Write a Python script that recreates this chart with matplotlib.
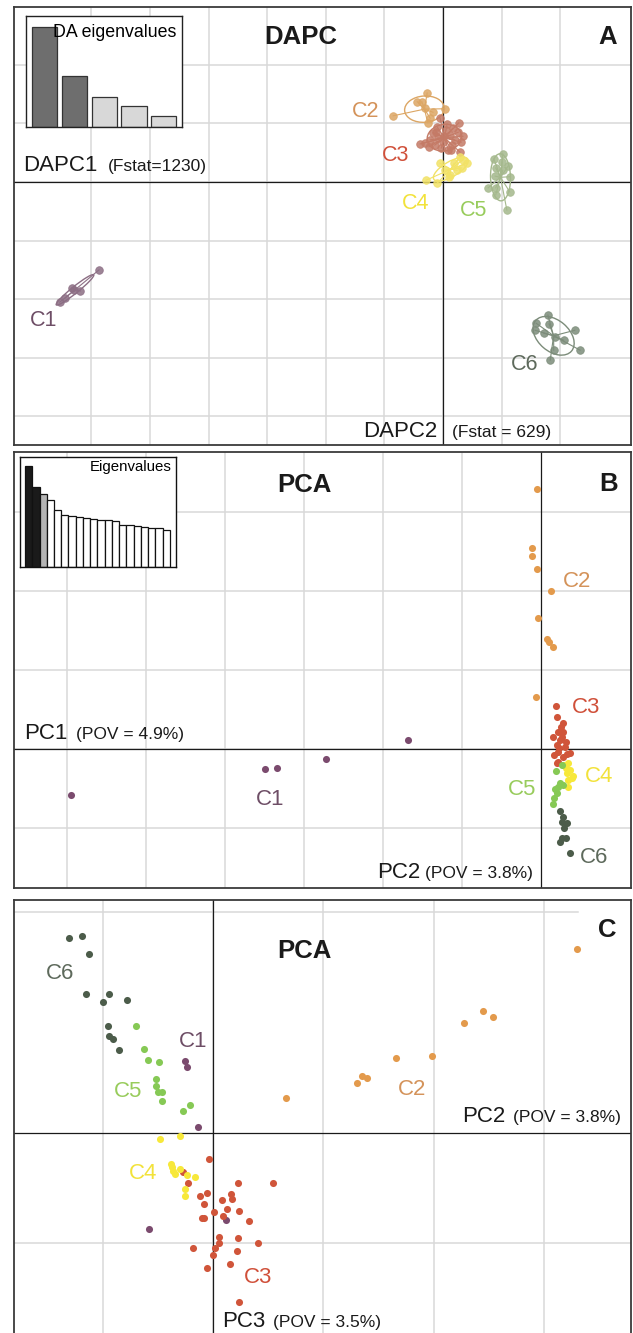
import numpy as np
import matplotlib.pyplot as plt
from matplotlib.patches import Ellipse

plt.rcParams['font.family'] = ['Liberation Sans', 'DejaVu Sans']

W, H = 633, 1333
groups = ['C1', 'C2', 'C3', 'C4', 'C5', 'C6']

# ---- panel A : DAPC scores (grid unit = 1)
dapc1 = {
    'C1': [-5.87, -6.33, -6.19, -6.45, -6.54, -6.30],
    'C2': [-0.27, -0.44, -0.36, -0.85, 0.03, -0.22, -0.26, -0.31, -0.17],
    'C3': [-0.05, 0.27, -0.39, -0.31, 0.31, 0.29, 0.09, -0.10, -0.17, 0.17, 0.00, 0.12, -0.09,
           0.20, 0.05, -0.22, -0.03, 0.15, -0.12, 0.26, 0.07, -0.24, 0.34, 0.02, -0.14, 0.14],
    'C4': [-0.29, -0.10, -0.05, 0.12, 0.10, 0.19, 0.29, 0.32, 0.41, 0.34, 0.03, 0.24],
    'C5': [1.02, 0.87, 1.01, 1.11, 0.90, 1.02, 0.89, 1.14, 0.77, 0.90, 1.14, 0.90, 1.09],
    'C6': [1.79, 1.59, 1.81, 1.57, 1.72, 1.91, 2.06, 2.25, 1.89, 2.34, 1.83],
}
dapc2 = {
    'C1': [-1.50, -1.81, -1.86, -1.98, -2.05, -1.84],
    'C2': [1.52, 1.37, 1.37, 1.13, 1.25, 1.09, 1.01, 1.26, 1.19],
    'C3': [1.09, 1.01, 0.65, 0.67, 0.68, 0.51, 0.55, 0.94, 0.84, 0.92, 0.68, 0.80, 0.75,
           0.72, 0.89, 0.72, 0.58, 0.63, 0.85, 0.85, 0.99, 0.60, 0.78, 0.78, 0.63, 0.55],
    'C4': [0.03, -0.02, 0.32, 0.12, 0.09, 0.32, 0.43, 0.24, 0.32, 0.38, 0.20, 0.20],
    'C5': [0.48, 0.39, 0.34, 0.27, 0.24, 0.20, 0.10, 0.09, -0.10, -0.10, -0.17, -0.22, -0.48],
    'C6': [-2.27, -2.41, -2.42, -2.53, -2.58, -2.65, -2.70, -2.53, -2.87, -2.87, -3.04],
}
da_eig = [1230, 629, 370, 258, 135]
da_fstat = [1230, 629]

# ---- panel B : PC1 (horizontal) x PC2 (vertical)
pcb_x = {
    'C1': [-5.95, -3.49, -3.34, -2.72, -1.68],
    'C2': [-0.05, -0.11, -0.11, -0.05, 0.13, -0.04, 0.08, 0.10, 0.15, -0.06],
    'C3': [0.19, 0.20, 0.28, 0.22, 0.28, 0.15, 0.24, 0.20, 0.30, 0.22, 0.37, 0.16, 0.28, 0.22,
           0.33, 0.23, 0.27, 0.20, 0.25, 0.32],
    'C4': [0.34, 0.32, 0.37, 0.33, 0.39, 0.34, 0.41, 0.34, 0.29],
    'C5': [0.27, 0.19, 0.28, 0.22, 0.18, 0.20, 0.16, 0.15, 0.24],
    'C6': [0.24, 0.28, 0.27, 0.33, 0.29, 0.27, 0.32, 0.24, 0.37],
}
pcb_y = {
    'C1': [-0.58, -0.25, -0.24, -0.13, 0.11],
    'C2': [3.29, 2.54, 2.44, 2.28, 2.00, 1.66, 1.39, 1.35, 1.29, 0.66],
    'C3': [0.54, 0.41, 0.33, 0.22, 0.22, 0.15, 0.11, 0.05, 0.03, -0.04, -0.05, -0.08, -0.10, -0.16,
           -0.06, 0.01, 0.15, -0.18, 0.28, 0.09],
    'C4': [-0.18, -0.24, -0.27, -0.30, -0.37, -0.39, -0.34, -0.48, -0.20],
    'C5': [-0.20, -0.28, -0.46, -0.48, -0.51, -0.56, -0.62, -0.70, -0.43],
    'C6': [-0.78, -0.86, -0.92, -0.94, -1.00, -1.13, -1.13, -1.18, -1.32],
}

# ---- panel C : PC2 (horizontal) x PC3 (vertical)
pcc_x = {
    'C1': [-0.25, -0.24, -0.14, -0.58, 0.12],
    'C2': [3.30, 2.45, 2.54, 2.28, 1.99, 1.66, 1.35, 1.40, 1.31, 0.66],
    'C3': [-0.04, -0.27, -0.23, 0.23, 0.54, -0.12, -0.05, -0.08, 0.08, 0.16, 0.17, 0.01, 0.13, 0.24,
           0.09, -0.10, -0.08, 0.33, 0.05, 0.23, 0.41, 0.05, 0.02, -0.18, 0.22, 0.00, 0.15, -0.05, 0.24],
    'C4': [-0.48, -0.30, -0.38, -0.36, -0.34, -0.30, -0.24, -0.16, -0.25, -0.25, -0.37],
    'C5': [-0.70, -0.63, -0.59, -0.49, -0.52, -0.52, -0.50, -0.46, -0.46, -0.21, -0.27],
    'C6': [-1.31, -1.19, -1.12, -1.15, -1.00, -0.94, -0.78, -0.95, -0.94, -0.91, -0.85],
}
pcc_y = {
    'C1': [0.65, 0.60, 0.05, -0.87, -0.79],
    'C2': [1.67, 1.11, 1.05, 1.00, 0.70, 0.68, 0.52, 0.50, 0.45, 0.32],
    'C3': [-0.24, -0.35, -0.45, -0.45, -0.45, -0.57, -0.54, -0.64, -0.61, -0.55, -0.60, -0.72, -0.69,
           -0.71, -0.75, -0.77, -0.77, -0.80, -0.94, -0.95, -1.00, -1.00, -1.04, -1.04, -1.07, -1.11,
           -1.19, -1.22, -1.53],
    'C4': [-0.05, -0.03, -0.28, -0.34, -0.37, -0.33, -0.38, -0.40, -0.51, -0.57, -0.31],
    'C5': [0.97, 0.76, 0.66, 0.64, 0.49, 0.43, 0.37, 0.37, 0.29, 0.25, 0.20],
    'C6': [1.77, 1.79, 1.62, 1.26, 1.19, 1.26, 1.21, 0.97, 0.88, 0.85, 0.75],
}
pca_eig = [4.90, 3.88, 3.55, 3.25, 2.78, 2.55, 2.47, 2.45, 2.37, 2.35,
           2.30, 2.29, 2.24, 2.06, 2.04, 1.98, 1.95, 1.90, 1.88, 1.82]
pov = [4.9, 3.8, 3.5]

# colours
col_a = {'C1': '#8c6e84', 'C2': '#dca664', 'C3': '#c47a66', 'C4': '#f2e266', 'C5': '#a4b88c', 'C6': '#7c8c7a'}
col_pt = {'C1': '#7b4b6e', 'C2': '#e39a4c', 'C3': '#d0553a', 'C4': '#f7e83a', 'C5': '#86c955', 'C6': '#4c5c4a'}
col_lab = {'C1': '#6e4e66', 'C2': '#d4935a', 'C3': '#d0503a', 'C4': '#f2e23a', 'C5': '#98cc5c', 'C6': '#5e6a5c'}

fig = plt.figure(figsize=(W / 100, H / 100), dpi=100)


def ftext(x, y, s, **kw):
    kw.setdefault('va', 'baseline')
    fig.text(x / W, 1 - y / H, s, **kw)


def panel(box, origin, unit, gx, gy):
    l, t, r, b = box
    ax = fig.add_axes([l / W, 1 - b / H, (r - l) / W, (b - t) / H])
    ox, oy = origin
    ax.set_xlim((l - ox) / unit, (r - ox) / unit)
    ax.set_ylim((oy - b) / unit, (oy - t) / unit)
    ax.set_xticks([])
    ax.set_yticks([])
    for s in ax.spines.values():
        s.set_color('#3a3a3a')
        s.set_linewidth(1.3)
    for v in gx:
        ax.axvline(v, color='#d9d9d9', lw=1.1, zorder=0)
    for v in gy:
        ax.axhline(v, color='#d9d9d9', lw=1.1, zorder=0)
    ax.axvline(0, color='#1a1a1a', lw=0.9, zorder=1)
    ax.axhline(0, color='#1a1a1a', lw=0.9, zorder=1)
    return ax


def star_ellipse(ax, x, y, col, k=1.5):
    x = np.asarray(x)
    y = np.asarray(y)
    cx, cy = x.mean(), y.mean()
    for xi, yi in zip(x, y):
        ax.plot([cx, xi], [cy, yi], color=col, lw=0.8, zorder=2)
    cov = np.cov(x, y, bias=True)
    vals, vecs = np.linalg.eigh(cov)
    ang = np.degrees(np.arctan2(vecs[1, 1], vecs[0, 1]))
    ax.add_patch(Ellipse((cx, cy), 2 * k * np.sqrt(vals[1]), 2 * k * np.sqrt(vals[0]),
                         angle=ang, fill=False, ec=col, lw=1.0, zorder=2))


# ---------------- A
axA = panel((14, 7, 631, 445), (443, 182), 58.6, range(-6, 3), range(-4, 3))
for g in groups:
    star_ellipse(axA, dapc1[g], dapc2[g], col_a[g])
    axA.scatter(dapc1[g], dapc2[g], s=30, color=col_a[g], alpha=0.85,
                edgecolors=col_a[g], linewidths=0.6, zorder=3)

insA = fig.add_axes([26 / W, 1 - 127 / H, 156 / W, 111 / H])
insA.bar(range(5), da_eig, width=0.84,
         color=['#6e6e6e', '#6e6e6e', '#d8d8d8', '#d8d8d8', '#d8d8d8'],
         edgecolor='#333333', lw=0.9)
insA.set_xlim(-0.62, 4.61)
insA.set_ylim(0, 1365)
insA.set_xticks([])
insA.set_yticks([])
for s in insA.spines.values():
    s.set_color('#222222')
    s.set_linewidth(1.0)
insA.text(0.965, 0.93, 'DA eigenvalues', transform=insA.transAxes, ha='right', va='top', fontsize=12.8)

ftext(301, 44, 'DAPC', fontsize=18.5, fontweight='bold', ha='center', color='#1a1a1a')
ftext(608, 44, 'A', fontsize=18.5, fontweight='bold', ha='center', color='#1a1a1a')
ftext(23, 171, 'DAPC1', fontsize=16, ha='left', color='#1a1a1a')
ftext(108, 171, f'(Fstat={da_fstat[0]})', fontsize=12.5, ha='left', color='#1a1a1a')
ftext(437, 437, 'DAPC2', fontsize=16, ha='right', color='#1a1a1a')
ftext(452, 437, f'(Fstat = {da_fstat[1]})', fontsize=12.5, ha='left', color='#1a1a1a')
for g, (x, y) in zip(groups, [(44, 326), (366, 117), (396, 161), (416, 209), (474, 216), (525, 370)]):
    ftext(x, y, g, fontsize=15.5, ha='center', color=col_lab[g])

# ---------------- B
axB = panel((14, 452, 631, 888), (541, 749), 79, range(-6, 0), range(-1, 4))
for g in groups:
    axB.scatter(pcb_x[g], pcb_y[g], s=26, color=col_pt[g], linewidths=0, zorder=3)

insB = fig.add_axes([20 / W, 1 - 567 / H, 156 / W, 110 / H])
insB.bar(range(20), pca_eig, width=1.0,
         color=['#1a1a1a', '#1a1a1a', '#b4b4b4'] + ['white'] * 17,
         edgecolor='#111111', lw=0.9)
insB.set_xlim(-1.19, 20.33)
insB.set_ylim(0, 5.35)
insB.set_xticks([])
insB.set_yticks([])
for s in insB.spines.values():
    s.set_color('#111111')
    s.set_linewidth(1.0)
insB.text(0.975, 0.975, 'Eigenvalues', transform=insB.transAxes, ha='right', va='top', fontsize=10.8)

ftext(304, 492, 'PCA', fontsize=18.5, fontweight='bold', ha='center', color='#1a1a1a')
ftext(609, 491, 'B', fontsize=18.5, fontweight='bold', ha='center', color='#1a1a1a')
ftext(24, 739, 'PC1', fontsize=16, ha='left', color='#1a1a1a')
ftext(76, 739, f'(POV = {pov[0]}%)', fontsize=12.5, ha='left', color='#1a1a1a')
ftext(420, 878, 'PC2', fontsize=16, ha='right', color='#1a1a1a')
ftext(425, 878, f'(POV = {pov[1]}%)', fontsize=12.5, ha='left', color='#1a1a1a')
for g, (x, y) in zip(groups, [(270, 805), (577, 587), (586, 713), (599, 782), (522, 795), (594, 863)]):
    ftext(x, y, g, fontsize=16, ha='center', color=col_lab[g])

# ---------------- C
axC = panel((14, 900, 631, 1345), (213, 1133), 110.3, range(-1, 4), [-1])
axC.spines['bottom'].set_visible(False)
axC.plot([axC.get_xlim()[0], 3.31], [2, 2], color='#d9d9d9', lw=1.1, zorder=0)
for g in groups:
    axC.scatter(pcc_x[g], pcc_y[g], s=26, color=col_pt[g], linewidths=0, zorder=3)

ftext(304, 958, 'PCA', fontsize=18.5, fontweight='bold', ha='center', color='#1a1a1a')
ftext(607, 937, 'C', fontsize=18.5, fontweight='bold', ha='center', color='#1a1a1a')
ftext(462, 1122, 'PC2', fontsize=16, ha='left', color='#1a1a1a')
ftext(513, 1122, f'(POV = {pov[1]}%)', fontsize=12.5, ha='left', color='#1a1a1a')
ftext(222, 1327, 'PC3', fontsize=16, ha='left', color='#1a1a1a')
ftext(273, 1327, f'(POV = {pov[2]}%)', fontsize=12.5, ha='left', color='#1a1a1a')
for g, (x, y) in zip(groups, [(193, 1047), (412, 1095), (258, 1283), (143, 1179), (128, 1097), (60, 979)]):
    ftext(x, y, g, fontsize=16, ha='center', color=col_lab[g])

fig.savefig('out.png', dpi=100)
